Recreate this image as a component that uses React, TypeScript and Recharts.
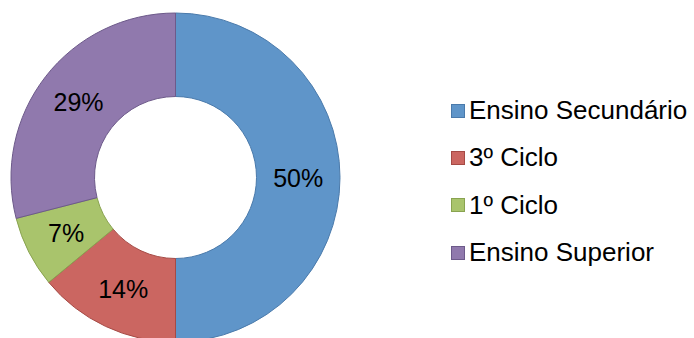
import { PieChart, Pie, Cell, Legend } from 'recharts'

const categories = ['Ensino Secundário', '3º Ciclo', '1º Ciclo', 'Ensino Superior']
const shares = [50, 14, 7, 29]
const fills = ['#5f95c9', '#cb6661', '#a9c46c', '#9079ad']
const strokes = ['#4a7aab', '#a54a45', '#89a350', '#6d5a8a']

const data = categories.map((name, i) => ({ name, value: shares[i] }))

const FONT = 'Helvetica, "Liberation Sans", Arial, sans-serif'
const RAD = Math.PI / 180

const renderLabel = ({ cx, cy, midAngle, innerRadius, outerRadius, value }: any) => {
  const r = (innerRadius + outerRadius) / 2
  const x = cx + r * Math.cos(-midAngle * RAD)
  const y = cy + r * Math.sin(-midAngle * RAD)
  return (
    <text x={x} y={y} textAnchor="middle" dominantBaseline="central" fill="#000" fontSize={25} fontFamily={FONT}>
      {`${value}%`}
    </text>
  )
}

const LegendList = () => (
  <div style={{ fontFamily: FONT, fontSize: 26, color: '#000' }}>
    {categories.map((c, i) => (
      <div key={c} style={{ display: 'flex', alignItems: 'center', height: 47.3 }}>
        <span style={{ width: 12, height: 12, background: fills[i], border: `1px solid ${strokes[i]}`, marginRight: 4 }} />
        <span>{c}</span>
      </div>
    ))}
  </div>
)

export default function App() {
  return (
    <div style={{ width: 694, height: 338, background: '#fff' }}>
      <style>{`body{margin:0}`}</style>
      <PieChart width={694} height={338} margin={{ top: 0, right: 0, bottom: 0, left: 0 }}>
        <Pie
          data={data}
          dataKey="value"
          cx={175.5}
          cy={177.5}
          innerRadius={81}
          outerRadius={164.5}
          startAngle={90}
          endAngle={-270}
          label={renderLabel}
          labelLine={false}
          isAnimationActive={false}
        >
          {data.map((d, i) => (
            <Cell key={d.name} fill={fills[i]} stroke={strokes[i]} strokeWidth={1} />
          ))}
        </Pie>
        <Legend content={<LegendList />} wrapperStyle={{ left: 451, top: 87, width: 243 }} />
      </PieChart>
    </div>
  )
}
